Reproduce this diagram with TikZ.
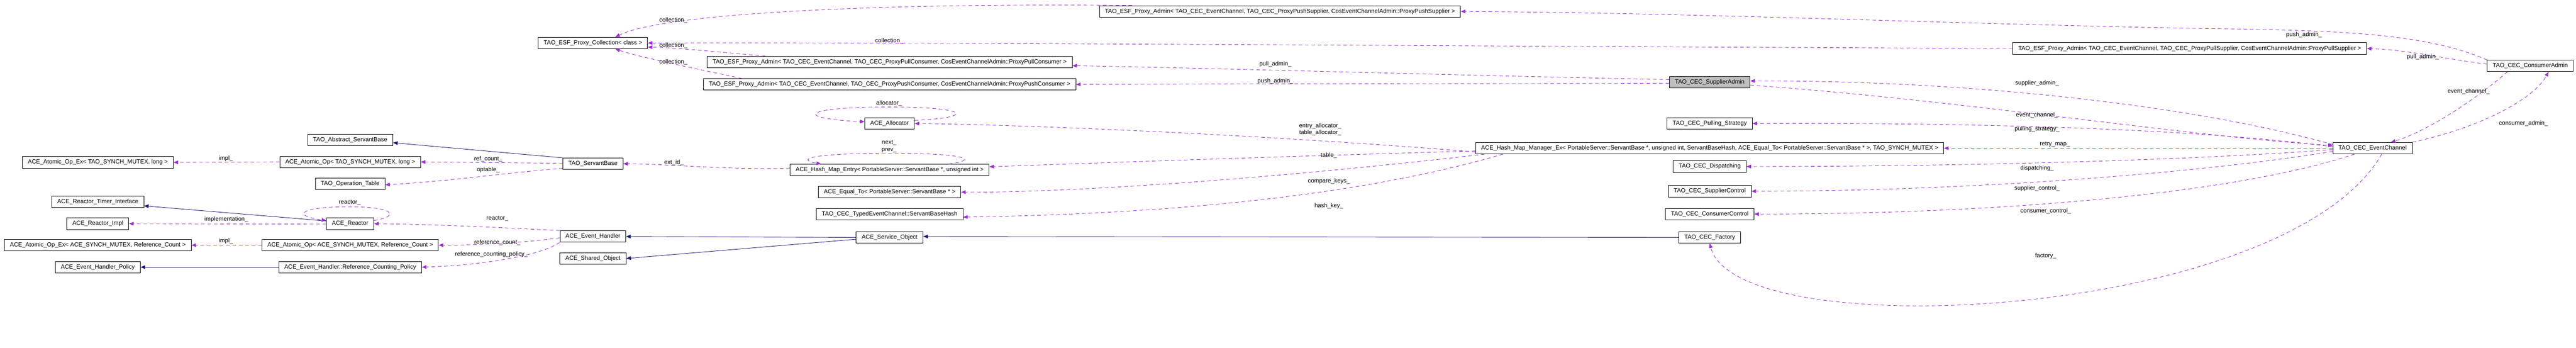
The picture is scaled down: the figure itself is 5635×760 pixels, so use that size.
\documentclass[tikz,border=0pt]{standalone}
\usepackage{fontspec}
\setmainfont{Liberation Sans}
\usetikzlibrary{arrows.meta}
\definecolor{depc}{HTML}{9A32CD}
\definecolor{inhc}{HTML}{191970}
\definecolor{rootc}{HTML}{BFBFBF}
\newcommand\fsz{\fontsize{13}{15}\selectfont}
\begin{document}
\begin{tikzpicture}[x=1pt,y=-1pt,
  cls/.style={draw=black,line width=1.1pt,fill=white,inner xsep=12pt,inner ysep=0pt,minimum height=25pt,font=\fsz},
  rootcls/.style={cls,fill=rootc},
  lab/.style={font=\fsz,inner sep=0pt,align=center},
  dep/.style={draw=depc,line width=1pt,dash pattern=on 8pt off 6pt,-{Triangle[length=10pt,width=8pt]}},
  inh/.style={draw=inhc,line width=1pt,-{Triangle[length=10pt,width=8pt]}}]
\useasboundingbox[fill=white] (0,0) rectangle (5635,760);
% column 1
\node[cls] (aopexT) at (214,355) {ACE\_Atomic\_Op\_Ex< TAO\_SYNCH\_MUTEX, long >};
\node[cls] (rti) at (214,441) {ACE\_Reactor\_Timer\_Interface};
\node[cls] (rimpl) at (214,489) {ACE\_Reactor\_Impl};
\node[cls] (aopexA) at (214,536) {ACE\_Atomic\_Op\_Ex< ACE\_SYNCH\_MUTEX, Reference\_Count >};
\node[cls] (ehp) at (214,584) {ACE\_Event\_Handler\_Policy};
% column 2
\node[cls] (absb) at (766,306) {TAO\_Abstract\_ServantBase};
\node[cls] (aopT) at (766,354) {ACE\_Atomic\_Op< TAO\_SYNCH\_MUTEX, long >};
\node[cls] (optab) at (766,402) {TAO\_Operation\_Table};
\node[cls] (reactor) at (766,489) {ACE\_Reactor};
\node[cls] (aopA) at (766,536) {ACE\_Atomic\_Op< ACE\_SYNCH\_MUTEX, Reference\_Count >};
\node[cls] (rcp) at (766,584) {ACE\_Event\_Handler::Reference\_Counting\_Policy};
% column 3
\node[cls] (coll) at (1297,94) {TAO\_ESF\_Proxy\_Collection< class >};
\node[cls] (sb) at (1297,358) {TAO\_ServantBase};
\node[cls] (eh) at (1297,517) {ACE\_Event\_Handler};
\node[cls] (so) at (1297,565) {ACE\_Shared\_Object};
% column 4
\node[cls] (pullc) at (1946,135.5) {TAO\_ESF\_Proxy\_Admin< TAO\_CEC\_EventChannel, TAO\_CEC\_ProxyPullConsumer, CosEventChannelAdmin::ProxyPullConsumer >};
\node[cls] (pushc) at (1946,184.5) {TAO\_ESF\_Proxy\_Admin< TAO\_CEC\_EventChannel, TAO\_CEC\_ProxyPushConsumer, CosEventChannelAdmin::ProxyPushConsumer >};
\node[cls] (alloc) at (1946,270) {ACE\_Allocator};
\node[cls] (entry) at (1946,371.5) {ACE\_Hash\_Map\_Entry< PortableServer::ServantBase *, unsigned int >};
\node[cls] (eq) at (1946,420) {ACE\_Equal\_To< PortableServer::ServantBase * >};
\node[cls] (sbh) at (1946,468.5) {TAO\_CEC\_TypedEventChannel::ServantBaseHash};
\node[cls] (svc) at (1946,519) {ACE\_Service\_Object};
% top
\node[cls] (pushs) at (2800,25) {TAO\_ESF\_Proxy\_Admin< TAO\_CEC\_EventChannel, TAO\_CEC\_ProxyPushSupplier, CosEventChannelAdmin::ProxyPushSupplier >};
% column 5
\node[rootcls] (sadmin) at (3740,180) {TAO\_CEC\_SupplierAdmin};
\node[cls] (pulling) at (3740,270) {TAO\_CEC\_Pulling\_Strategy};
\node[cls] (hmm) at (3740,324) {ACE\_Hash\_Map\_Manager\_Ex< PortableServer::ServantBase *, unsigned int, ServantBaseHash, ACE\_Equal\_To< PortableServer::ServantBase * >, TAO\_SYNCH\_MUTEX >};
\node[cls] (disp) at (3740,364) {TAO\_CEC\_Dispatching};
\node[cls] (sctl) at (3740,418) {TAO\_CEC\_SupplierControl};
\node[cls] (cctl) at (3740,468) {TAO\_CEC\_ConsumerControl};
\node[cls] (fact) at (3740,519) {TAO\_CEC\_Factory};
% right
\node[cls] (pulls) at (4790,106) {TAO\_ESF\_Proxy\_Admin< TAO\_CEC\_EventChannel, TAO\_CEC\_ProxyPullSupplier, CosEventChannelAdmin::ProxyPullSupplier >};
\node[cls] (ec) at (5190,324) {TAO\_CEC\_EventChannel};
\node[cls] (cadmin) at (5535,144) {TAO\_CEC\_ConsumerAdmin};

% ---- edges, left part
\draw[inh] (rcp.west) -- (ehp.east);
\draw[dep] (aopT.west) -- (aopexT.east);
\node[lab] (l1) at (494,347) {impl\_};
\draw[dep] (aopA.west) -- (aopexA.east);
\node[lab] (l2) at (494,527) {impl\_};
\draw[inh] ([yshift=6pt]reactor.west) -- ([yshift=-9pt]rti.east);
\draw[dep] ([yshift=-1pt]reactor.west) -- (rimpl.east);
\node[lab] (l3) at (495,480) {implementation\_};
\draw[dep] ([yshift=7pt]reactor.east) .. controls +(60,-10) and (860,452) .. (765,452) .. controls (650,452) and (640,472) .. ([yshift=7pt]reactor.west);
\node[lab] (l4) at (765,443) {reactor\_};
\draw[inh] (sb.north west) -- ([yshift=-6pt]absb.east);
\draw[dep] ([yshift=1pt]sb.west) -- (aopT.east);
\node[lab] (l5) at (1068,348) {ref\_count\_};
\draw[dep] ([yshift=-10pt]sb.west) .. controls (1100,378) and (1000,395) .. ([yshift=-2pt]optab.east);
\node[lab] (l6) at (1068,371) {optable\_};
\draw[dep] ([yshift=4pt]entry.west) .. controls (1600,372) and (1450,358) .. (sb.east);
\node[lab] (l7) at (1474,355) {ext\_id\_};
\draw[dep] ([xshift=130pt]entry.north) .. controls (2140,350) and (2120,335) .. (1945,335) .. controls (1760,335) and (1745,350) .. ([xshift=-150pt]entry.north);
\node[lab] (l8) at (1945,320) {next\_\\prev\_};
\draw[dep] ([yshift=7pt]alloc.east) .. controls (2130,258) and (2130,234) .. (1945,234) .. controls (1740,234) and (1745,260) .. ([yshift=4pt]alloc.west);
\node[lab] (l9) at (1945,226) {allocator\_};
\draw[dep] ([yshift=-8pt]hmm.west) .. controls (2700,290) and (2200,272) .. (alloc.east);
\node[lab] (l10) at (2888,283) {entry\_allocator\_\\table\_allocator\_};
\draw[dep] ([yshift=-6pt]hmm.west) .. controls (2700,345) and (2300,360) .. ([yshift=7pt]entry.east);
\node[lab] (l11) at (2907,340) {table\_};
\draw[dep] ([xshift=20pt]hmm.south west) .. controls (2700,400) and (2300,421) .. (eq.east);
\node[lab] (l12) at (2907,396) {compare\_keys\_};
\draw[dep] ([xshift=60pt]hmm.south west) .. controls (2900,450) and (2400,470) .. ([yshift=-6pt]sbh.east);
\node[lab] (l13) at (2907,450) {hash\_key\_};
\draw[inh] (svc.west) -- (eh.east);
\draw[inh] ([yshift=-4pt]svc.west) -- (so.east);
\draw[dep] (eh.north west) .. controls (1150,500) and (950,490) .. (reactor.east);
\node[lab] (l14) at (1088,478) {reactor\_};
\draw[dep] ([yshift=-3pt]eh.west) .. controls (1150,530) and (1050,536) .. (aopA.east);
\node[lab] (l15) at (1088,530) {reference\_count\_};
\draw[dep] (eh.south west) .. controls (1180,560) and (1050,580) .. (rcp.east);
\node[lab] (l16) at (1075,556) {reference\_counting\_policy\_};
\draw[inh] (fact.west) -- ([yshift=2pt]svc.east);
% ---- collection edges
\draw[dep] ([xshift=72pt]pushs.north west) .. controls (1900,6) and (1450,30) .. ([xshift=49pt]coll.north);
\node[lab] (l17) at (1473,45) {collection\_};
\draw[dep] (pulls.west) .. controls (3000,100) and (2000,92) .. (coll.east);
\node[lab] (l18) at (1945,90) {collection\_};
\draw[dep] ([xshift=128pt]pullc.north west) .. controls (1580,115) and (1480,104) .. ([yshift=-9pt]coll.east);
\node[lab] (l19) at (1473,100) {collection\_};
\draw[dep] ([xshift=85pt]pushc.north west) .. controls (1520,150) and (1400,125) .. ([xshift=49pt]coll.south);
\node[lab] (l20) at (1473,136) {collection\_};
% ---- supplier admin
\draw[dep] ([yshift=6pt]sadmin.west) .. controls (3200,165) and (2700,150) .. ([yshift=-8pt]pullc.east);
\node[lab] (l21) at (2790,140) {pull\_admin\_};
\draw[dep] ([yshift=-2pt]sadmin.west) .. controls (3200,183) and (2700,183) .. (pushc.east);
\node[lab] (l22) at (2790,177) {push\_admin\_};
\draw[dep] ([yshift=-6pt]sadmin.east) .. controls (4300,220) and (4800,300) .. ([yshift=6pt]ec.west);
\node[lab] (l23) at (4456,252) {event\_channel\_};
\draw[dep] ([yshift=8pt]ec.west) .. controls (4800,230) and (4300,175) .. ([yshift=3pt]sadmin.east);
\node[lab] (l24) at (4456,182) {supplier\_admin\_};
% ---- consumer admin
\draw[dep] (cadmin.north west) .. controls (5300,70) and (5100,66) .. (4800,62) .. controls (4200,50) and (3700,28) .. (pushs.east);
\node[lab] (l25) at (5040,76) {push\_admin\_};
\draw[dep] ([yshift=4pt]cadmin.west) .. controls (5350,130) and (5280,110) .. (pulls.east);
\node[lab] (l26) at (5300,124) {pull\_admin\_};
\draw[dep] ([xshift=-50pt]cadmin.south) .. controls (5400,230) and (5300,290) .. ([xshift=40pt]ec.north);
\node[lab] (l27) at (5400,200) {event\_channel\_};
\draw[dep] (ec.north east) .. controls (5420,280) and (5540,220) .. ([xshift=40pt]cadmin.south);
\node[lab] (l28) at (5520,270) {consumer\_admin\_};
% ---- event channel fan
\draw[dep] ([yshift=3pt]ec.west) .. controls (4800,280) and (4300,268) .. (pulling.east);
\node[lab] (l29) at (4456,282) {pulling\_strategy\_};
\draw[dep] (ec.west) -- (hmm.east);
\node[lab] (l30) at (4495,316) {retry\_map\_};
\draw[dep] ([yshift=-3pt]ec.west) .. controls (4800,350) and (4300,364) .. (disp.east);
\node[lab] (l31) at (4456,368) {dispatching\_};
\draw[dep] ([yshift=-7pt]ec.west) .. controls (4800,380) and (4300,418) .. (sctl.east);
\node[lab] (l32) at (4456,412) {supplier\_control\_};
\draw[dep] ([xshift=-40pt]ec.south) .. controls (4900,420) and (4400,468) .. (cctl.east);
\node[lab] (l33) at (4475,462) {consumer\_control\_};
\draw[dep] ([xshift=20pt]ec.south) .. controls (5000,700) and (3800,760) .. (fact.south);
\node[lab] (l34) at (4475,560) {factory\_};
\end{tikzpicture}
\end{document}
